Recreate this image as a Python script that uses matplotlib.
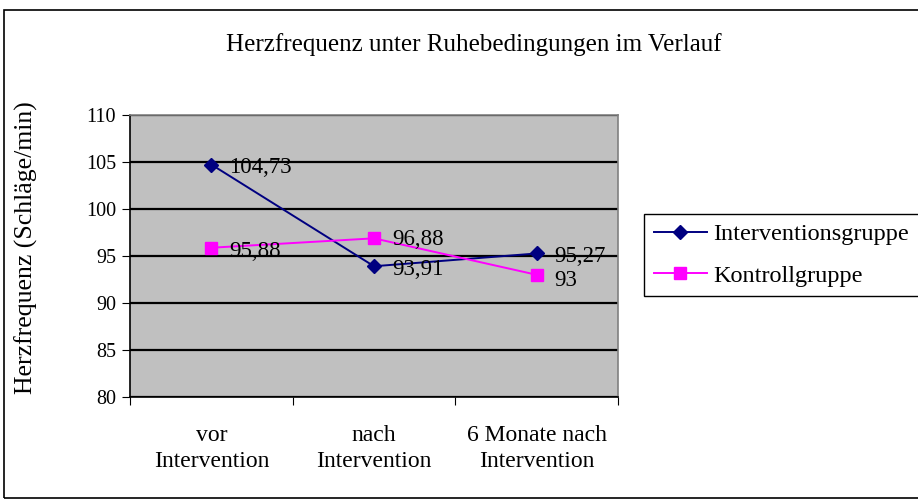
import matplotlib.pyplot as plt
from matplotlib.patches import Rectangle
from matplotlib.ticker import FixedLocator, NullFormatter

plt.rcParams['font.family'] = ['Liberation Serif', 'DejaVu Serif']

# data
categories = ['vor\nIntervention', 'nach\nIntervention', '6 Monate nach\nIntervention']
interv = [104.73, 93.91, 95.27]
kontroll = [95.88, 96.88, 93.0]
interv_labels = ['104,73', '93,91', '95,27']
kontroll_labels = ['95,88', '96,88', '93']

fig = plt.figure(figsize=(9.18, 5.01), dpi=100)
ax = fig.add_axes([130/918, 1-397/501, (618-130)/918, (397-115)/501])
ax.set_facecolor('#c0c0c0')

x = list(range(len(categories)))
ax.plot(x, interv, color='#000080', marker='D', markersize=7, lw=1.4, label='Interventionsgruppe', zorder=3)
ax.plot(x, kontroll, color='#ff00ff', marker='s', markersize=8, lw=1.4, label='Kontrollgruppe', zorder=3)

# data labels
for xi, v, t in zip(x, interv, interv_labels):
    ax.annotate(t, (xi, v), xytext=(13, -2), textcoords='offset points', ha='left', va='center', fontsize=16.5)
for xi, v, t, dy in zip(x, kontroll, kontroll_labels, [-3, -1, -4]):
    ax.annotate(t, (xi, v), xytext=(13, dy), textcoords='offset points', ha='left', va='center', fontsize=16.5)

ax.set_ylim(80, 110)
ax.set_xlim(-0.5, 2.5)
ax.set_yticks(range(80, 111, 5))
ax.yaxis.grid(True, color='black', lw=1.6)
ax.set_axisbelow(True)

ax.xaxis.set_major_locator(FixedLocator([-0.5, 0.5, 1.5, 2.5]))
ax.xaxis.set_major_formatter(NullFormatter())
ax.xaxis.set_minor_locator(FixedLocator(x))
ax.set_xticklabels(categories, minor=True)
ax.tick_params(axis='x', which='minor', length=0, labelsize=17, pad=20)
ax.tick_params(axis='x', which='major', length=6, direction='out', color='black')
ax.tick_params(axis='y', length=6, direction='out', labelsize=14.5, pad=4)
for lab in ax.get_xticklabels(minor=True):
    lab.set_linespacing(1.3)

for s in ax.spines.values():
    s.set_color('#808080')
    s.set_linewidth(1.2)
ax.spines['left'].set_color('black')
ax.spines['bottom'].set_color('black')

ax.set_ylabel('Herzfrequenz (Schläge/min)', fontsize=18.5)
ax.yaxis.set_label_coords(-(130-38)/488, 0.53)

fig.text(474/918, 1-45/501, 'Herzfrequenz unter Ruhebedingungen im Verlauf', ha='center', va='center', fontsize=18)

leg = fig.legend(loc='center left', bbox_to_anchor=(644/918, 1-255/501), fontsize=17.5,
                 frameon=True, fancybox=False, edgecolor='black', framealpha=1,
                 handlelength=2.2, borderpad=0.4, borderaxespad=0, labelspacing=0.8,
                 handletextpad=0.25)
leg.get_frame().set_linewidth(1.0)

# outer chart border
fig.patches.append(Rectangle((4/918, 1-498/501), 1.0, (498-10)/501, transform=fig.transFigure,
                             fill=False, edgecolor='black', lw=1.2))

fig.savefig('out.png', dpi=100)
